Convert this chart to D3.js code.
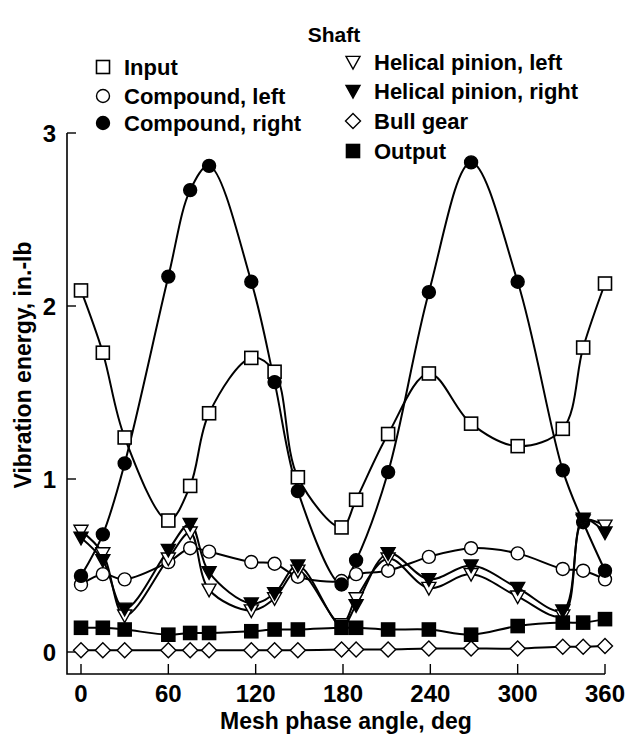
<!DOCTYPE html>
<html><head><meta charset="utf-8">
<script src="https://cdn.jsdelivr.net/npm/d3@7"></script>
<style>
body{margin:0;background:#fff;}
text{font-family:"Liberation Sans",Arial,sans-serif;font-weight:bold;fill:#000;}
</style></head>
<body><svg id="c" width="627" height="736"></svg>
<script>
const angles = [0,15,30,60,75,88,117,133,149,179,189,211,239,268,300,331,345,360];
const inputVals = [2.09,1.73,1.24,0.76,0.96,1.38,1.70,1.62,1.01,0.72,0.88,1.26,1.61,1.32,1.19,1.29,1.76,2.13];
const compoundLeft = [0.39,0.45,0.42,0.52,0.60,0.58,0.52,0.51,0.435,0.41,0.45,0.47,0.55,0.60,0.57,0.48,0.47,0.42];
const compoundRight = [0.44,0.68,1.09,2.17,2.67,2.81,2.14,1.56,0.93,0.39,0.53,1.04,2.08,2.83,2.14,1.05,0.75,0.47];
const helicalLeft = [0.70,0.57,0.21,0.54,0.69,0.36,0.24,0.31,0.47,0.16,0.31,0.54,0.37,0.45,0.32,0.21,0.76,0.73];
const helicalRight = [0.66,0.53,0.25,0.59,0.74,0.46,0.28,0.34,0.50,0.15,0.27,0.57,0.42,0.50,0.37,0.24,0.77,0.69];
const bullGear = [0.01,0.01,0.01,0.01,0.01,0.01,0.01,0.01,0.01,0.015,0.015,0.015,0.02,0.02,0.02,0.03,0.03,0.035];
const outputVals = [0.14,0.14,0.13,0.10,0.11,0.11,0.12,0.13,0.13,0.14,0.14,0.13,0.13,0.10,0.15,0.17,0.17,0.19];
const xTicks = [0,60,120,180,240,300,360];
const yTicks = [0,1,2,3];
const seriesNames = ["Input","Compound, left","Compound, right","Helical pinion, left","Helical pinion, right","Bull gear","Output"];
const seriesSymbols = ["squareOpen","circleOpen","circleFilled","triDownOpen","triDownFilled","diamondOpen","squareFilled"];

const svg = d3.select("#c");
const x = d3.scaleLinear().domain([0,360]).range([81,605]);
const y = d3.scaleLinear().domain([0,3]).range([652,133]);
const axisX0 = 67, axisY0 = 674;

const series = [inputVals, compoundLeft, compoundRight, helicalLeft, helicalRight, bullGear, outputVals];

function drawSymbol(g, kind, cx, cy){
  const filled = kind.endsWith("Filled");
  const fill = filled ? "#000" : "#fff";
  if (kind.startsWith("square")) {
    const s = 13;
    g.append("rect").attr("x", cx - s/2).attr("y", cy - s/2).attr("width", s).attr("height", s)
      .attr("fill", fill).attr("stroke", "#000").attr("stroke-width", 1.6);
  } else if (kind.startsWith("circle")) {
    g.append("circle").attr("cx", cx).attr("cy", cy).attr("r", 6.5)
      .attr("fill", fill).attr("stroke", "#000").attr("stroke-width", 1.4);
  } else if (kind.startsWith("triDown")) {
    const h = 7;
    g.append("path").attr("d", `M${cx-h},${cy-h*0.8}L${cx+h},${cy-h*0.8}L${cx},${cy+h*1.0}Z`)
      .attr("fill", fill).attr("stroke", "#000").attr("stroke-width", 1.4).attr("stroke-linejoin","miter");
  } else if (kind.startsWith("diamond")) {
    const r = 7.5;
    g.append("path").attr("d", `M${cx},${cy-r}L${cx+r},${cy}L${cx},${cy+r}L${cx-r},${cy}Z`)
      .attr("fill", fill).attr("stroke", "#000").attr("stroke-width", 1.4);
  }
}

// axes
const gAxis = svg.append("g");
gAxis.append("path").attr("d", `M${axisX0},${y(3)}V${axisY0}H${x(360)}`)
  .attr("fill","none").attr("stroke","#000").attr("stroke-width",1.6);
yTicks.forEach(t => {
  gAxis.append("line").attr("x1", axisX0).attr("x2", axisX0 + 9).attr("y1", y(t)).attr("y2", y(t))
    .attr("stroke","#000").attr("stroke-width",1.4);
  gAxis.append("text").attr("x", 56).attr("y", y(t)).attr("dy","0.36em").attr("text-anchor","end")
    .attr("font-size", 24).text(t);
});
xTicks.forEach(t => {
  gAxis.append("line").attr("x1", x(t)).attr("x2", x(t)).attr("y1", axisY0).attr("y2", axisY0 - 10)
    .attr("stroke","#000").attr("stroke-width",1.4);
  gAxis.append("text").attr("x", x(t)).attr("y", 702).attr("text-anchor","middle")
    .attr("font-size", 24).text(t);
});
svg.append("text").attr("x", 346).attr("y", 729).attr("text-anchor","middle").attr("font-size", 23)
  .text("Mesh phase angle, deg");
svg.append("text").attr("transform", "translate(31,365) rotate(-90)").attr("text-anchor","middle")
  .attr("font-size", 23).text("Vibration energy, in.-lb");

// lines
const line = d3.line().x(d => x(d[0])).y(d => y(d[1])).curve(d3.curveCatmullRom.alpha(0.5));
const gLines = svg.append("g");
series.forEach(vals => {
  gLines.append("path").datum(angles.map((a,i) => [a, vals[i]]))
    .attr("d", line).attr("fill","none").attr("stroke","#000").attr("stroke-width",2);
});
// markers
const gMarks = svg.append("g");
series.forEach((vals, si) => {
  angles.forEach((a,i) => drawSymbol(gMarks, seriesSymbols[si], x(a), y(vals[i])));
});

// title + legend
svg.append("text").attr("x", 334).attr("y", 42).attr("text-anchor","middle").attr("font-size", 21).text("Shaft");
const legendPos = [
  [103, 67], [103, 96], [103, 123],
  [353, 62], [353, 91], [353, 121], [353, 151]
];
const gLeg = svg.append("g");
seriesNames.forEach((n, i) => {
  const [lx, ly] = legendPos[i];
  drawSymbol(gLeg, seriesSymbols[i], lx, ly);
  gLeg.append("text").attr("x", lx + 21).attr("y", ly).attr("dy","0.36em").attr("font-size", 22).text(n);
});
</script></body></html>
